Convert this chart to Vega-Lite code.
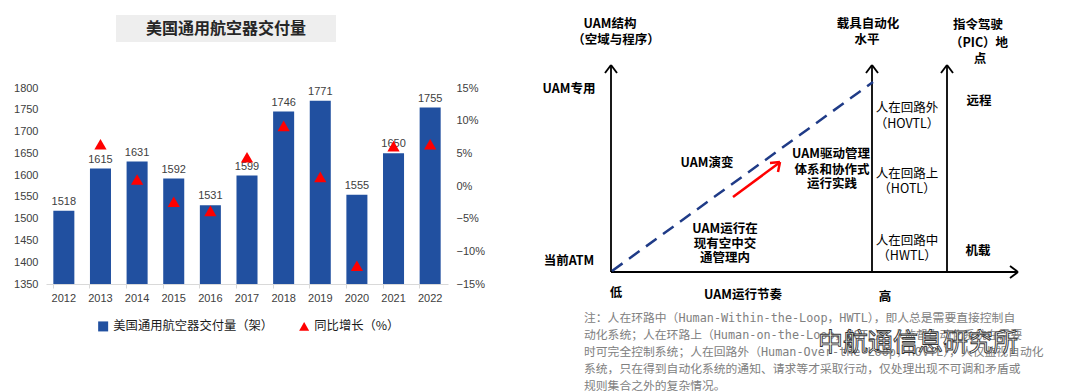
{
  "$schema": "https://vega.github.io/schema/vega-lite/v6.json",
  "background": "white",
  "padding": {"left": 13, "top": 0, "right": 0, "bottom": 0},
  "config": {"view": {"stroke": null}, "font": "Liberation Sans"},
  "spacing": 45,
  "hconcat": [
    {
      "spacing": 40,
      "vconcat": [
        {
          "width": 402,
          "height": 42,
          "data": {"values": [{"x1": 115, "x2": 335, "y1": 15, "y2": 42, "xc": 225, "yc": 28.5, "label": "美国通用航空器交付量"}]},
          "layer": [
            {
              "mark": {"type": "rect", "fill": "#eeeeee"},
              "encoding": {
                "x": {"field": "x1", "type": "quantitative", "scale": {"domain": [45, 447]}, "axis": null},
                "x2": {"field": "x2"},
                "y": {"field": "y1", "type": "quantitative", "scale": {"domain": [0, 42], "reverse": true}, "axis": null},
                "y2": {"field": "y2"}
              }
            },
            {
              "mark": {"type": "text", "fontSize": 16, "fontWeight": "bold", "font": "Noto Sans CJK SC", "color": "#262626"},
              "encoding": {
                "x": {"field": "xc", "type": "quantitative", "scale": {"domain": [45, 447]}, "axis": null},
                "y": {"field": "yc", "type": "quantitative", "scale": {"domain": [0, 42], "reverse": true}, "axis": null},
                "text": {"field": "label"}
              }
            }
          ]
        },
        {
          "width": 402,
          "height": 196,
          "data": {"values": [
            {"year": "2012", "deliveries": 1518, "growth": null},
            {"year": "2013", "deliveries": 1615, "growth": 0.064},
            {"year": "2014", "deliveries": 1631, "growth": 0.010},
            {"year": "2015", "deliveries": 1592, "growth": -0.024},
            {"year": "2016", "deliveries": 1531, "growth": -0.038},
            {"year": "2017", "deliveries": 1599, "growth": 0.044},
            {"year": "2018", "deliveries": 1746, "growth": 0.092},
            {"year": "2019", "deliveries": 1771, "growth": 0.014},
            {"year": "2020", "deliveries": 1555, "growth": -0.122},
            {"year": "2021", "deliveries": 1650, "growth": 0.061},
            {"year": "2022", "deliveries": 1755, "growth": 0.064}
          ]},
          "encoding": {
            "x": {
              "field": "year", "type": "ordinal",
              "scale": {"paddingInner": 0.426, "paddingOuter": 0.2},
              "axis": {"title": null, "labelAngle": 0, "domainColor": "#d9d9d9", "tickColor": "#d9d9d9", "bandPosition": 0, "tickSize": 4, "labelPadding": 4, "labelFontSize": 11, "labelColor": "#404040"}
            }
          },
          "layer": [
            {
              "encoding": {
                "y": {"field": "deliveries", "type": "quantitative", "scale": {"domain": [1350, 1800]},
                  "axis": {"title": null, "grid": false, "domain": false, "ticks": false, "labelPadding": 8, "format": "d", "labelOverlap": false, "values": [1350, 1400, 1450, 1500, 1550, 1600, 1650, 1700, 1750, 1800], "labelFontSize": 11, "labelColor": "#404040"}}
              },
              "layer": [
                {
                  "mark": {"type": "bar", "color": "#2150A0", "clip": true},
                  "encoding": {
                    "color": {
                      "datum": "美国通用航空器交付量（架）",
                      "scale": {"domain": ["美国通用航空器交付量（架）", "同比增长（%）"], "range": ["#2150A0", "#FF0000"]},
                      "legend": {
                        "title": null, "orient": "none", "legendX": 51, "legendY": 320, "direction": "horizontal",
                        "labelFont": "Noto Sans CJK SC", "labelFontSize": 12.3, "labelColor": "#1a1a1a",
                        "symbolSize": 100, "columnPadding": 24, "symbolStrokeWidth": 0,
                        "symbolType": {"expr": "datum.value == '同比增长（%）' ? 'triangle-up' : 'square'"}
                      }
                    }
                  }
                },
                {
                  "mark": {"type": "text", "baseline": "bottom", "dy": -4, "fontSize": 11, "color": "#404040"},
                  "encoding": {
                    "text": {"field": "deliveries", "type": "quantitative", "format": "d"}
                  }
                }
              ]
            },
            {
              "mark": {"type": "point", "shape": "triangle-up", "filled": true, "size": 150, "opacity": 1},
              "encoding": {
                "y": {"field": "growth", "type": "quantitative", "scale": {"domain": [-0.15, 0.15]},
                  "axis": {"orient": "right", "title": null, "format": ".0%", "grid": false, "domain": false, "ticks": false, "labelPadding": 8, "labelOverlap": false, "values": [-0.15, -0.1, -0.05, 0, 0.05, 0.1, 0.15], "labelFontSize": 11, "labelColor": "#404040"}},
                "color": {"datum": "同比增长（%）"}
              }
            }
          ],
          "resolve": {"scale": {"y": "independent"}}
        }
      ]
    },
    {
      "width": 537,
      "height": 391,
      "encoding": {
        "x": {"field": "x", "type": "quantitative", "scale": {"domain": [530, 1067]}, "axis": null},
        "y": {"field": "y", "type": "quantitative", "scale": {"domain": [0, 391], "reverse": true}, "axis": null}
      },
      "layer": [
        {
          "data": {"values": [
            {"x": 611, "y": 272, "x2": 611, "y2": 66},
            {"x": 872, "y": 272, "x2": 872, "y2": 66},
            {"x": 947, "y": 272, "x2": 947, "y2": 66},
            {"x": 611, "y": 272, "x2": 1017, "y2": 272},
            {"x": 605, "y": 73, "x2": 611, "y2": 65},
            {"x": 611, "y": 65, "x2": 617, "y2": 73},
            {"x": 866, "y": 73, "x2": 872, "y2": 65},
            {"x": 872, "y": 65, "x2": 878, "y2": 73},
            {"x": 941, "y": 73, "x2": 947, "y2": 65},
            {"x": 947, "y": 65, "x2": 953, "y2": 73},
            {"x": 1010, "y": 266, "x2": 1018, "y2": 272},
            {"x": 1018, "y": 272, "x2": 1010, "y2": 278}
          ]},
          "mark": {"type": "rule", "color": "#000000", "strokeWidth": 1.8},
          "encoding": {"x2": {"field": "x2"}, "y2": {"field": "y2"}}
        },
        {
          "data": {"values": [{"x": 612, "y": 271, "x2": 873, "y2": 82}]},
          "mark": {"type": "rule", "color": "#1F3B87", "strokeWidth": 2.5, "strokeDash": [13, 8]},
          "encoding": {"x2": {"field": "x2"}, "y2": {"field": "y2"}}
        },
        {
          "data": {"values": [
            {"x": 733, "y": 197, "x2": 779, "y2": 163},
            {"x": 780, "y": 162, "x2": 770, "y2": 163},
            {"x": 780, "y": 162, "x2": 778, "y2": 172}
          ]},
          "mark": {"type": "rule", "color": "#FF0000", "strokeWidth": 2.5},
          "encoding": {"x2": {"field": "x2"}, "y2": {"field": "y2"}}
        },
        {
          "data": {"values": [
            {"x": 610, "y": 24, "t": "UAM结构"},
            {"x": 616, "y": 40, "t": "（空域与程序）"},
            {"x": 868, "y": 24, "t": "载具自动化"},
            {"x": 867, "y": 40, "t": "水平"},
            {"x": 978, "y": 25, "t": "指令驾驶"},
            {"x": 979, "y": 43, "t": "（PIC）地"},
            {"x": 980, "y": 59, "t": "点"},
            {"x": 569, "y": 89, "t": "UAM专用"},
            {"x": 569, "y": 261, "t": "当前ATM"},
            {"x": 979, "y": 101, "t": "远程"},
            {"x": 978, "y": 251, "t": "机载"},
            {"x": 707, "y": 163, "t": "UAM演变"},
            {"x": 831, "y": 154, "t": "UAM驱动管理"},
            {"x": 832, "y": 170, "t": "体系和协作式"},
            {"x": 832, "y": 184, "t": "运行实践"},
            {"x": 725, "y": 229, "t": "UAM运行在"},
            {"x": 725, "y": 244, "t": "现有空中交"},
            {"x": 725, "y": 258, "t": "通管理内"},
            {"x": 616, "y": 293, "t": "低"},
            {"x": 743, "y": 295, "t": "UAM运行节奏"},
            {"x": 885, "y": 297, "t": "高"}
          ]},
          "mark": {"type": "text", "font": "Noto Sans CJK SC", "fontSize": 12.5, "fontWeight": "bold", "color": "#000000", "align": "center", "baseline": "middle"},
          "encoding": {"text": {"field": "t"}}
        },
        {
          "data": {"values": [
            {"x": 907, "y": 108, "t": "人在回路外"},
            {"x": 907, "y": 124, "t": "（HOVTL）"},
            {"x": 907, "y": 174, "t": "人在回路上"},
            {"x": 907, "y": 189, "t": "（HOTL）"},
            {"x": 907, "y": 241, "t": "人在回路中"},
            {"x": 907, "y": 256, "t": "（HWTL）"}
          ]},
          "mark": {"type": "text", "font": "Noto Sans CJK SC", "fontSize": 12.5, "fontWeight": "normal", "color": "#000000", "align": "center", "baseline": "middle"},
          "encoding": {"text": {"field": "t"}}
        },
        {
          "data": {"values": [
            {"x": 584, "y": 318, "t": "注：人在环路中（Human-Within-the-Loop，HWTL），即人总是需要直接控制自"},
            {"x": 584, "y": 335, "t": "动化系统；人在环路上（Human-on-the-Loop，HOTL），人监督自动化系统在需要"},
            {"x": 584, "y": 352, "t": "时可完全控制系统；人在回路外（Human-Over-the-Loop，HOVTL），人仅监视自动化"},
            {"x": 584, "y": 369, "t": "系统，只在得到自动化系统的通知、请求等才采取行动，仅处理出现不可调和矛盾或"},
            {"x": 584, "y": 386, "t": "规则集合之外的复杂情况。"}
          ]},
          "mark": {"type": "text", "font": "DejaVu Sans Mono, Noto Sans CJK SC", "fontSize": 11.8, "color": "#808080", "align": "left", "baseline": "middle"},
          "encoding": {"text": {"field": "t"}}
        },
        {
          "data": {"values": [{"x": 918, "y": 343, "t": "中航通信息研究所"}]},
          "mark": {"type": "text", "font": "Noto Sans CJK SC", "fontSize": 25, "color": "#ffffff", "stroke": "#333333", "strokeWidth": 0.9, "align": "center", "baseline": "middle"},
          "encoding": {"text": {"field": "t"}}
        }
      ]
    }
  ]
}
